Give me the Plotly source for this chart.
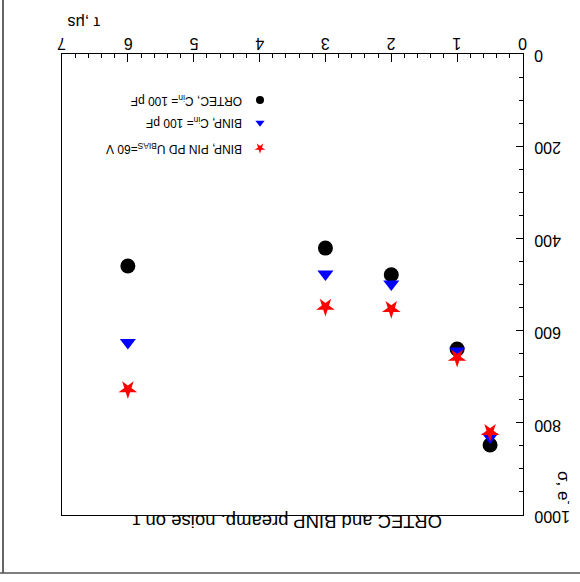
import plotly.graph_objects as go

# Shaping time (μs) and equivalent noise charge (electrons)
tau = [6.0, 3.0, 2.0, 1.0, 0.5]
ortec_sigma = [460, 421, 479, 640, 848]
binp_sigma = [626, 477, 499, 644, 831]
binp_pin_sigma = [727, 548, 553, 659, 820]

series_names = [
    "ORTEC, C<sub>in</sub>= 100 pF",
    "BINP, C<sub>in</sub>= 100 pF",
    "BINP, PIN PD U<sub>BIAS</sub>=60 V",
]
x_ticks = [0, 1, 2, 3, 4, 5, 6, 7]
y_ticks = [0, 200, 400, 600, 800, 1000]

W, H = 580, 582
L, R, T, B = 62, 57, 54, 67
PW, PH = W - L - R, H - T - B


def px(x):
    return (x - L) / PW


def py(y):
    return (H - B - y) / PH


FONT = "Liberation Sans, Arial, sans-serif"

fig = go.Figure()

styles = [
    dict(symbol="circle", color="black", size=15, angle=0),
    dict(symbol="triangle-down", color="blue", size=14, angle=0),
    dict(symbol="star", color="red", size=14, angle=180),
]
for vals, st, name in zip([ortec_sigma, binp_sigma, binp_pin_sigma], styles, series_names):
    fig.add_trace(go.Scatter(
        x=tau, y=vals, mode="markers", name=name, showlegend=False,
        marker=dict(symbol=st["symbol"], color=st["color"], size=st["size"],
                    angle=st["angle"], line=dict(width=0)),
        cliponaxis=False,
    ))

# hand-drawn key on an overlay axis spanning the frame
key_y = [0.900, 0.851, 0.796]
for ky, st, name in zip(key_y, styles, series_names):
    fig.add_trace(go.Scatter(
        x=[px(260)], y=[ky], xaxis="x2", yaxis="y2", mode="markers",
        showlegend=False, hoverinfo="skip",
        marker=dict(symbol=st["symbol"], color=st["color"], size=8,
                    angle=st["angle"], line=dict(width=0)),
    ))
    fig.add_annotation(
        x=px(244), y=ky, xref="paper", yref="paper", text=name,
        textangle=180, showarrow=False, xanchor="right", yanchor="middle",
        font=dict(family=FONT, size=12, color="black"),
    )

axis_common = dict(
    showline=True, linecolor="black", linewidth=1, mirror=True,
    showgrid=False, zeroline=False, ticks="inside", tickcolor="black",
    showticklabels=False,
)
fig.update_layout(
    width=W, height=H,
    margin=dict(l=L, r=R, t=T, b=B),
    paper_bgcolor="white", plot_bgcolor="white",
    xaxis=dict(range=[7, 0], side="top", tickvals=x_ticks, ticklen=8,
               minor=dict(dtick=0.2, ticks="inside", ticklen=4, tickcolor="black"),
               **axis_common),
    yaxis=dict(range=[1000, 0], side="right", tickvals=y_ticks, ticklen=7,
               minor=dict(dtick=50, ticks="inside", ticklen=4, tickcolor="black"),
               **axis_common),
    xaxis2=dict(range=[0, 1], overlaying="x", visible=False, fixedrange=True),
    yaxis2=dict(range=[0, 1], overlaying="y", visible=False, fixedrange=True),
)

# upside-down tick labels placed on the axis scales
for v in x_ticks:
    fig.add_annotation(x=v, y=py(43), xref="x", yref="paper", text=str(v),
                       textangle=180, showarrow=False,
                       xanchor="center", yanchor="middle",
                       font=dict(family=FONT, size=16, color="black"))
for v in y_ticks:
    fig.add_annotation(x=px(532), y=v, xref="paper", yref="y", text=str(v),
                       textangle=180, showarrow=False,
                       xanchor="left", yanchor="middle", yshift=-2,
                       font=dict(family=FONT, size=16, color="black"))

# axis titles and caption
fig.add_annotation(x=px(102), y=py(22), xref="paper", yref="paper", text="τ ,μs",
                   textangle=180, showarrow=False,
                   xanchor="right", yanchor="middle",
                   font=dict(family=FONT, size=16, color="black"))
fig.add_annotation(x=px(565), y=py(487), xref="paper", yref="paper",
                   text="σ, e<sup>-</sup>",
                   textangle=90, showarrow=False,
                   xanchor="center", yanchor="middle",
                   font=dict(family=FONT, size=17, color="black"))
fig.add_annotation(x=px(444), y=py(522), xref="paper", yref="paper",
                   text="ORTEC and BINP preamp. noise on τ",
                   textangle=180, showarrow=False,
                   xanchor="right", yanchor="middle",
                   font=dict(family=FONT, size=18.5, color="black"))

# outer frame edges
fig.add_shape(type="line", xref="paper", yref="paper",
              x0=px(3), x1=px(3), y0=py(0), y1=py(573),
              line=dict(color="#333333", width=1.5))
fig.add_shape(type="line", xref="paper", yref="paper",
              x0=px(0), x1=px(580), y0=py(573), y1=py(573),
              line=dict(color="#555555", width=1.5))

fig.write_html("out.html")
